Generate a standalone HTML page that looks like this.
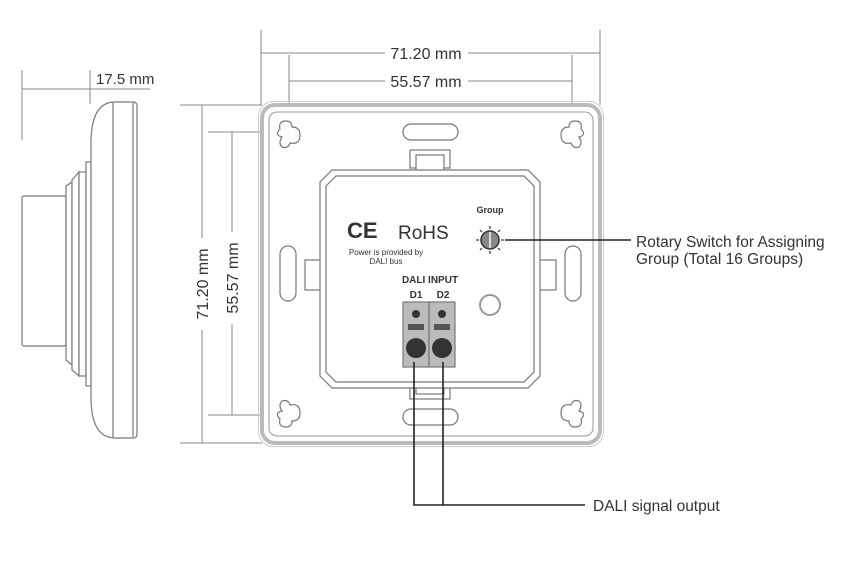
<!DOCTYPE html>
<html><head><meta charset="utf-8"><style>
html,body{margin:0;padding:0;background:#fff;width:850px;height:567px;overflow:hidden}
svg{display:block}
text{font-family:"Liberation Sans",sans-serif;fill:#333}
</style></head><body>
<svg width="850" height="567" viewBox="0 0 850 567" xmlns="http://www.w3.org/2000/svg">
<g stroke="#888" stroke-width="1" fill="none">
<line x1="22" y1="70" x2="22" y2="140"/>
<line x1="90" y1="70" x2="90" y2="104"/>
<line x1="22" y1="89" x2="150" y2="89"/>
<line x1="180" y1="105" x2="262" y2="105"/>
<line x1="180" y1="443" x2="262" y2="443"/>
<line x1="202" y1="105" x2="202" y2="238"/>
<line x1="202" y1="330" x2="202" y2="443"/>
<line x1="208" y1="132" x2="290" y2="132"/>
<line x1="208" y1="415" x2="290" y2="415"/>
<line x1="232" y1="132" x2="232" y2="232"/>
<line x1="232" y1="324" x2="232" y2="415"/>
<line x1="261" y1="30" x2="261" y2="105"/>
<line x1="600" y1="30" x2="600" y2="105"/>
<line x1="261" y1="53" x2="385" y2="53"/>
<line x1="468" y1="53" x2="600" y2="53"/>
<line x1="289" y1="55" x2="289" y2="135"/>
<line x1="572" y1="55" x2="572" y2="135"/>
<line x1="289" y1="81" x2="385" y2="81"/>
<line x1="468" y1="81" x2="572" y2="81"/>
</g>
<g stroke="#777" stroke-width="1.2" fill="#fff">
<rect x="22" y="196" width="44" height="150" rx="2"/>
<path d="M66 186 L66 360 L72 365 L72 182 Z"/>
<path d="M72 180 L79 172 L79 376 L72 370 Z"/>
<rect x="79" y="172" width="7" height="204"/>
<rect x="86" y="162" width="5" height="224"/>
<path d="M115 102 L133 102 Q137 102 137 106 L137 434 Q137 438 133 438 L115 438 Q92 438 91 400 L91 140 Q92 102 115 102 Z"/>
<line x1="113" y1="103" x2="113" y2="437"/>
<line x1="133" y1="103" x2="133" y2="437"/>
</g>
<rect x="262" y="105" width="338" height="338" rx="13" fill="#fff" stroke="#bbb" stroke-width="4"/>
<rect x="269" y="112" width="324" height="324" rx="8" fill="none" stroke="#999" stroke-width="1"/>
<rect x="258.5" y="101.5" width="345" height="345" rx="15" fill="none" stroke="#ccc" stroke-width="1"/>
<g stroke="#777" stroke-width="1.2" fill="#fff">
<g transform="translate(288,135)"><path d="M-8 -6 Q-10 -14 -2 -14 Q4 -14 4 -8 Q12 -8 12 0 Q12 10 2 8 Q0 14 -6 12 Q-10 8 -6 2 Q-14 0 -8 -6 Z"/></g>
<g transform="translate(573,135) scale(-1,1)"><path d="M-8 -6 Q-10 -14 -2 -14 Q4 -14 4 -8 Q12 -8 12 0 Q12 10 2 8 Q0 14 -6 12 Q-10 8 -6 2 Q-14 0 -8 -6 Z"/></g>
<g transform="translate(288,413) scale(1,-1)"><path d="M-8 -6 Q-10 -14 -2 -14 Q4 -14 4 -8 Q12 -8 12 0 Q12 10 2 8 Q0 14 -6 12 Q-10 8 -6 2 Q-14 0 -8 -6 Z"/></g>
<g transform="translate(573,413) scale(-1,-1)"><path d="M-8 -6 Q-10 -14 -2 -14 Q4 -14 4 -8 Q12 -8 12 0 Q12 10 2 8 Q0 14 -6 12 Q-10 8 -6 2 Q-14 0 -8 -6 Z"/></g>
<rect x="403" y="124" width="55" height="16" rx="8"/>
<rect x="403" y="409" width="55" height="16" rx="8"/>
<rect x="280" y="246" width="16" height="55" rx="8"/>
<rect x="565" y="246" width="16" height="55" rx="8"/>
<rect x="410" y="150" width="40" height="18"/>
<rect x="416" y="155" width="28" height="18"/>
<rect x="410" y="383" width="40" height="16"/>
<rect x="416" y="376" width="28" height="18"/>
<rect x="305" y="260" width="18" height="30"/>
<rect x="538" y="260" width="18" height="30"/>
<path d="M332 170 L528 170 L540 182 L540 376 L528 388 L332 388 L320 376 L320 182 Z"/>
<path d="M336 176 L524 176 L534 186 L534 372 L524 382 L336 382 L326 372 L326 186 Z"/>
<rect x="403" y="302" width="26" height="65" fill="#bbb"/>
<rect x="429" y="302" width="26" height="65" fill="#bbb"/>
</g>
<g fill="#333">
<circle cx="416" cy="314" r="4"/><circle cx="442" cy="314" r="4"/>
<rect x="408" y="324" width="16" height="6" fill="#555"/>
<rect x="434" y="324" width="16" height="6" fill="#555"/>
<circle cx="416" cy="348" r="10"/><circle cx="442" cy="348" r="10"/>
</g>
<circle cx="490" cy="305" r="10" fill="#fff" stroke="#999" stroke-width="2"/>
<circle cx="490" cy="240" r="9" fill="#888" stroke="#333" stroke-width="1.5"/>
<line x1="490" y1="232" x2="490" y2="248" stroke="#ddd" stroke-width="2"/>
<g stroke="#333" stroke-width="1.2">
<line x1="490" y1="226" x2="490" y2="229"/><line x1="504" y1="240" x2="501" y2="240"/>
<line x1="490" y1="254" x2="490" y2="251"/><line x1="476" y1="240" x2="479" y2="240"/>
<line x1="500" y1="230" x2="498" y2="232"/><line x1="480" y1="230" x2="482" y2="232"/>
<line x1="500" y1="250" x2="498" y2="248"/><line x1="480" y1="250" x2="482" y2="248"/>
</g>
<text x="490" y="213" font-size="9" text-anchor="middle" font-weight="bold">Group</text>
<text x="347" y="238" font-size="22" font-weight="bold" fill="#222">CE</text>
<text x="398" y="239" font-size="19" fill="#222">RoHS</text>
<text x="386" y="255" font-size="8" text-anchor="middle">Power is provided by</text>
<text x="386" y="264" font-size="8" text-anchor="middle">DALI bus</text>
<text x="430" y="283" font-size="10" text-anchor="middle" font-weight="bold">DALI INPUT</text>
<text x="416" y="298" font-size="10" text-anchor="middle" font-weight="bold">D1</text>
<text x="443" y="298" font-size="10" text-anchor="middle" font-weight="bold">D2</text>
<g stroke="#222" stroke-width="1.6" fill="none">
<line x1="505" y1="240" x2="631" y2="240"/>
<polyline points="414,362 414,505 585,505"/>
<line x1="443" y1="362" x2="443" y2="505"/>
</g>
<text x="636" y="247" font-size="15.5" fill="#222">Rotary Switch for Assigning</text>
<text x="636" y="264" font-size="15.5" fill="#222">Group  (Total 16 Groups)</text>
<text x="593" y="511" font-size="15.5" fill="#222">DALI signal output</text>
<text x="96" y="84" font-size="15" fill="#222">17.5 mm</text>
<text x="426" y="59" font-size="16" text-anchor="middle" fill="#222">71.20 mm</text>
<text x="426" y="87" font-size="16" text-anchor="middle" fill="#222">55.57 mm</text>
<text transform="translate(208,284) rotate(-90)" font-size="16" text-anchor="middle" fill="#222">71.20 mm</text>
<text transform="translate(238,278) rotate(-90)" font-size="16" text-anchor="middle" fill="#222">55.57 mm</text>
</svg>
</body></html>
